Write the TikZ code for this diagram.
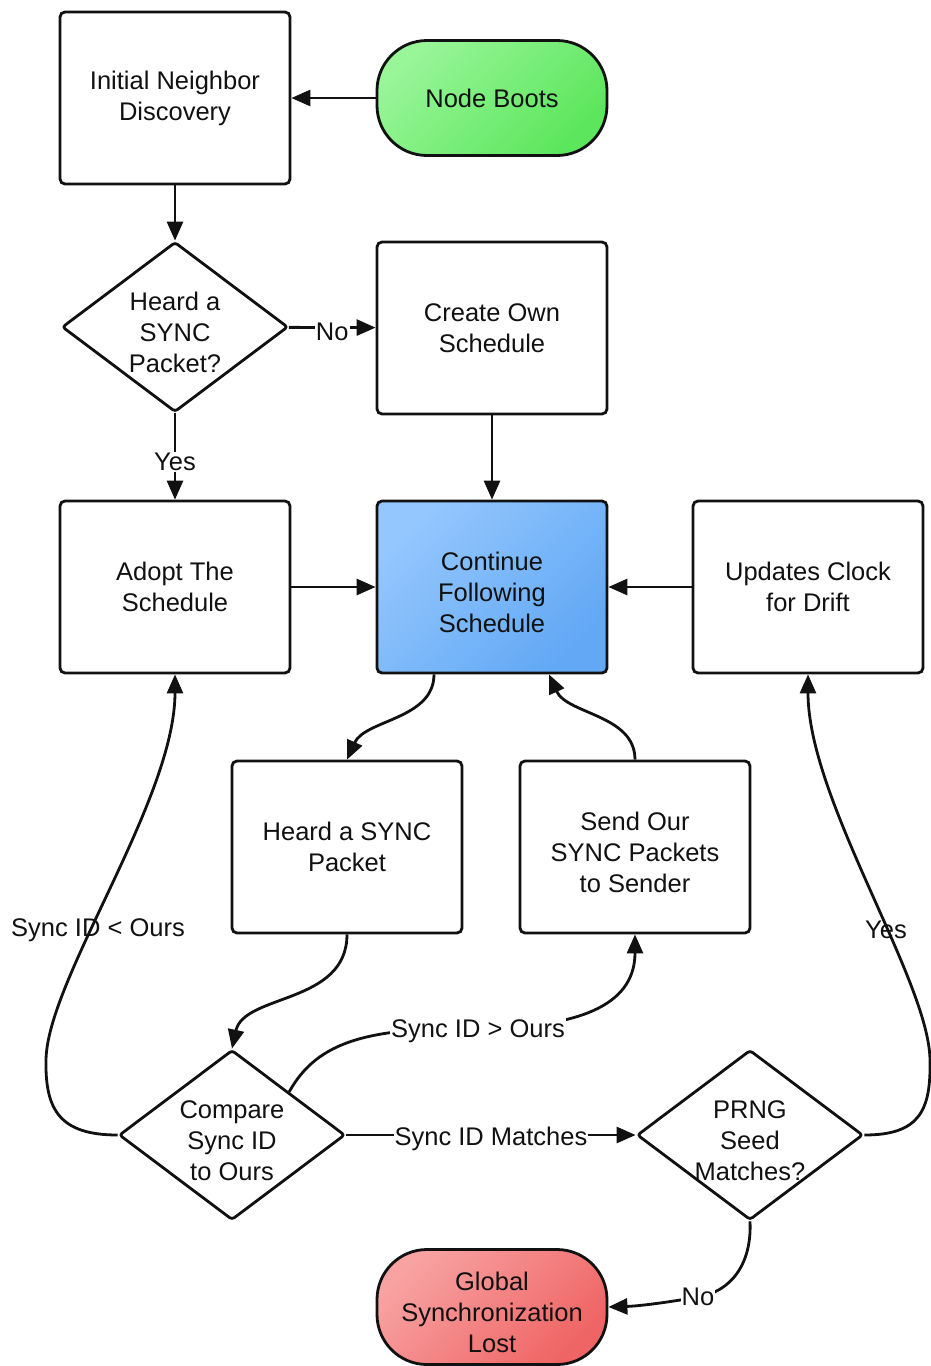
\documentclass[tikz,border=0pt]{standalone}
\usepackage{fontspec}
\setmainfont{Liberation Sans}
\usetikzlibrary{shapes.geometric,arrows.meta,calc}

\newcommand\flowfont{\fontsize{25.5}{31}\selectfont}
% extra room above the first of three lines, so the block sits a little lower
\newcommand\tallfirst{\rule{0pt}{30pt}}

\definecolor{bootA}{HTML}{98F598}
\definecolor{bootB}{HTML}{5CE65C}
\definecolor{contA}{HTML}{94C7FD}
\definecolor{contB}{HTML}{62A8F5}
\definecolor{lostA}{HTML}{F8A2A2}
\definecolor{lostB}{HTML}{EF6464}
\definecolor{ink}{HTML}{111111}

\begin{document}
\begin{tikzpicture}[x=1pt,y=-1pt,
  box/.style={draw=ink, line width=2.8pt, rounded corners=5pt,
    minimum width=230pt, minimum height=172pt, align=center,
    font=\flowfont, text=ink, inner sep=0pt},
  term/.style={box, rounded corners=50pt, minimum height=115pt},
  decision/.style={draw=ink, line width=2.8pt, diamond, rounded corners=3pt,
    minimum width=226pt, minimum height=170pt, inner sep=-14pt,
    align=center, font=\flowfont, text=ink},
  arr/.style={draw=ink, line width=2.8pt, -{Triangle[length=19pt,width=16pt]}},
  lbl/.style={fill=white, inner sep=1pt, font=\flowfont, text=ink},
  freelbl/.style={inner sep=0pt, font=\flowfont, text=ink},
  diag/.style={shading angle=45},
]
\useasboundingbox (0,0) rectangle (931,1366);

% nodes
\node[box] (ind) at (175,98) {Initial Neighbor\\Discovery};
\node[term, left color=bootA, right color=bootB, diag] (boot) at (492,98) {Node Boots};
\node[decision] (d1) at (175,327) {\tallfirst Heard a\\SYNC\\Packet?};
\node[box] (own) at (492,328) {Create Own\\Schedule};
\node[box] (adopt) at (175,587) {Adopt The\\Schedule};
\node[box, left color=contA, right color=contB, diag] (cont) at (492,587) {\tallfirst Continue\\Following\\Schedule};
\node[box] (upd) at (808,587) {Updates Clock\\for Drift};
\node[box] (heard) at (347,847) {Heard a SYNC\\Packet};
\node[box] (send) at (635,847) {\tallfirst Send Our\\SYNC Packets\\to Sender};
\node[decision] (cmp) at (232,1135) {\tallfirst Compare\\Sync ID\\to Ours};
\node[decision] (prng) at (750,1135) {\tallfirst PRNG\\Seed\\Matches?};
\node[term, left color=lostA, right color=lostB, diag] (lost) at (492,1307) {\tallfirst Global\\Synchronization\\Lost};

% connectors
\draw[arr] (boot) -- (ind);
\draw[arr] (ind) -- (d1);
\draw[arr] (d1) -- node[lbl, yshift=-4pt]{No} (own);
\draw[arr] (d1) -- node[lbl, pos=0.56]{Yes} (adopt);
\draw[arr] (own) -- (cont);
\draw[arr] (adopt) -- (cont);
\draw[arr] (upd) -- (cont);

\draw[arr] ([xshift=-58pt]cont.south) .. controls +(0,45) and +(18,-40) .. (heard.north);
\draw[arr] (send.north) .. controls +(0,-45) and +(18,40) .. ([xshift=57pt]cont.south);
\draw[arr] (heard.south) .. controls +(0,70) and +(12,-55) .. (cmp.north);

\coordinate (gt) at (478,1028);
\draw[arr] (cmp.north east) .. controls (318,1040) and (370,1028) .. (gt)
  .. controls (590,1028) and (635,1000) .. (send.south);
\node[lbl, yshift=-3pt] at (gt) {Sync ID > Ours};

\draw[arr] (cmp) -- node[lbl, yshift=-4pt]{Sync ID Matches} (prng);

\draw[arr] (cmp.west) .. controls (60,1135) and (45,1110) .. (46,1060)
  .. controls (47,980) and (175,800) .. (adopt.south);
\node[freelbl] at (98,930) {Sync ID < Ours};

\draw[arr] (prng.east) .. controls (920,1135) and (931,1110) .. (930,1060)
  .. controls (929,980) and (808,800) .. (upd.south);
\node[freelbl] at (886,930) {Yes};

\coordinate (no) at (698,1297);
\draw[arr] (prng.south) .. controls (752,1265) and (730,1292) .. (no)
  .. controls (670,1302) and (640,1306) .. (lost.east);
\node[lbl] at (no) {No};
\end{tikzpicture}
\end{document}
